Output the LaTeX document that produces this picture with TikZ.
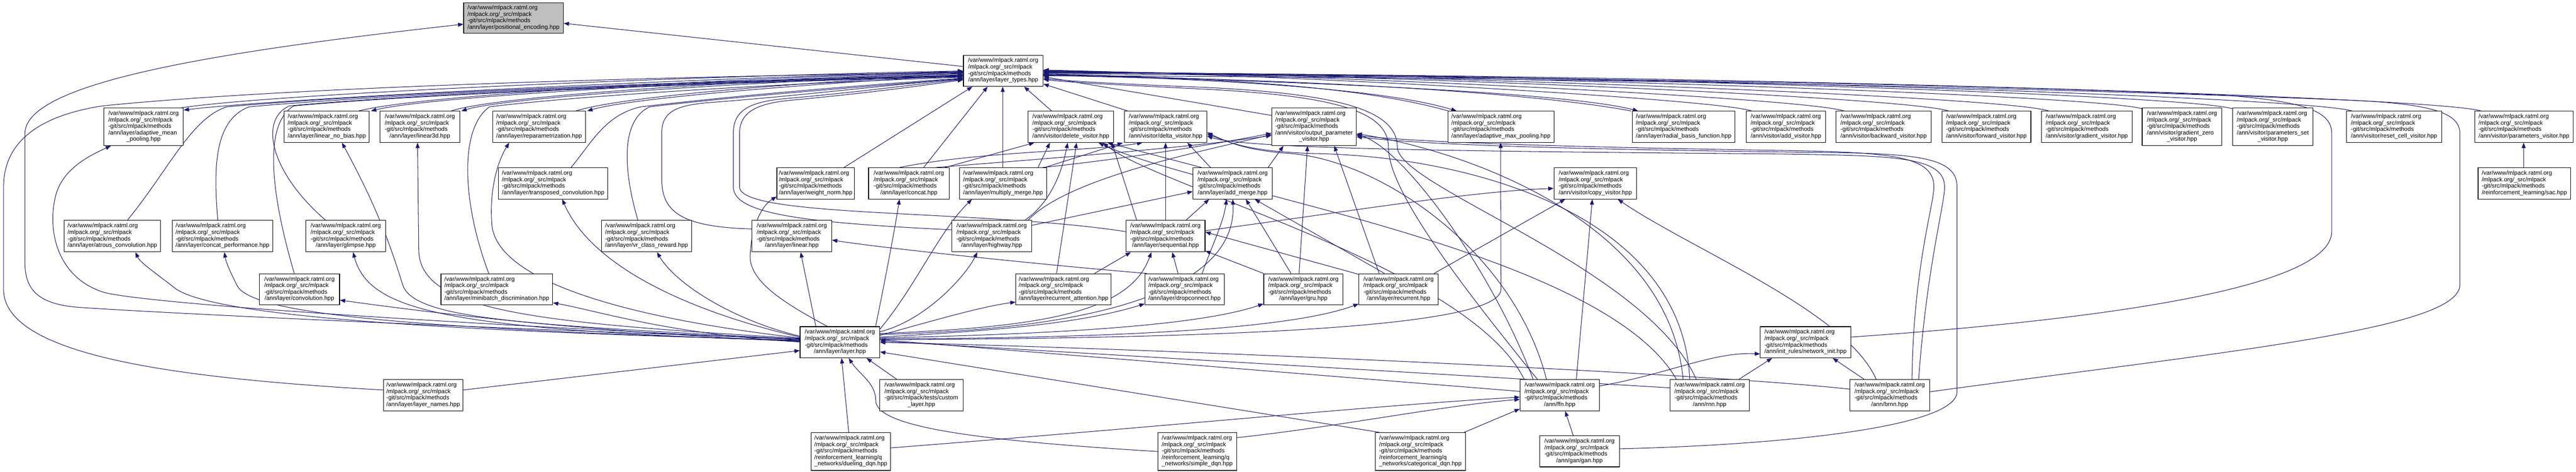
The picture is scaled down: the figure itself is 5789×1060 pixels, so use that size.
\documentclass[tikz,border=0pt]{standalone}
\usepackage{fontspec}
\setmainfont{Liberation Sans}
\usetikzlibrary{arrows.meta}
\pgfdeclarelayer{bg}
\pgfsetlayers{bg,main}
\definecolor{edgec}{HTML}{191970}
\definecolor{rootfill}{HTML}{BFBFBF}
\newcommand{\mlp}{/var/www/mlpack.ratml.org\\/mlpack.org/\_src/mlpack\\-git/src/mlpack/methods}
\newcommand{\lab}[1]{\begin{tabular}{@{}l@{}}\mlp\\\multicolumn{1}{@{}c@{}}{#1}\end{tabular}}
\newcommand{\labb}[2]{\begin{tabular}{@{}l@{}}\mlp\\#1\\\multicolumn{1}{@{}c@{}}{#2}\end{tabular}}
\newcommand{\nd}[7][]{\node[filebox,#1,minimum width={#4-#3},minimum height={#6-#5}] (#2) at ({(#3+#4)/2},{(#5+#6)/2}) {#7};}
\tikzset{
  filebox/.style={draw=black, line width=1.3pt, fill=white, inner sep=0pt, font=\fontsize{13.4pt}{14.6pt}\selectfont},
  dep/.style={draw=edgec, line width=1.2pt, -{Triangle[length=12pt,width=9pt]}}
}
\begin{document}
\begin{tikzpicture}[x=1pt,y=-1pt]
\useasboundingbox (0,0) rectangle (5789,1060);
% row 1-2
\nd[fill=rootfill]{pe}{1042}{1266}{6}{75}{\lab{/ann/layer/positional\_encoding.hpp}}
\nd{lt}{2165}{2344}{124}{194}{\lab{/ann/layer/layer\_types.hpp}}
% row 3
\nd{amp}{233}{412}{243}{327}{\labb{/ann/layer/adaptive\_mean}{\_pooling.hpp}}
\nd{lnb}{639}{830}{250}{320}{\lab{/ann/layer/linear\_no\_bias.hpp}}
\nd{l3d}{854}{1033}{250}{320}{\lab{/ann/layer/linear3d.hpp}}
\nd{rep}{1107}{1316}{250}{320}{\lab{/ann/layer/reparametrization.hpp}}
\nd{delv}{2310}{2503}{250}{320}{\lab{/ann/visitor/delete\_visitor.hpp}}
\nd{delta}{2527}{2712}{250}{320}{\lab{/ann/visitor/delta\_visitor.hpp}}
\nd{opv}{2858}{3048}{243}{327}{\labb{/ann/visitor/output\_parameter}{\_visitor.hpp}}
\nd{amxp}{3254}{3492}{250}{320}{\lab{/ann/layer/adaptive\_max\_pooling.hpp}}
\nd{rbf}{3668}{3899}{250}{320}{\lab{/ann/layer/radial\_basis\_function.hpp}}
\nd{addv}{3924}{4103}{250}{320}{\lab{/ann/visitor/add\_visitor.hpp}}
\nd{bwv}{4126}{4340}{250}{320}{\lab{/ann/visitor/backward\_visitor.hpp}}
\nd{fwv}{4364}{4564}{250}{320}{\lab{/ann/visitor/forward\_visitor.hpp}}
\nd{gv}{4588}{4791}{250}{320}{\lab{/ann/visitor/gradient\_visitor.hpp}}
\nd{gzv}{4814}{4993}{243}{327}{\labb{/ann/visitor/gradient\_zero}{\_visitor.hpp}}
\nd{psv}{5017}{5198}{243}{327}{\labb{/ann/visitor/parameters\_set}{\_visitor.hpp}}
\nd{rcv}{5273}{5487}{250}{320}{\lab{/ann/visitor/reset\_cell\_visitor.hpp}}
\nd{pv}{5561}{5783}{250}{320}{\lab{/ann/visitor/parameters\_visitor.hpp}}
% row 4
\nd{tc}{1120}{1366}{377}{447}{\lab{/ann/layer/transposed\_convolution.hpp}}
\nd{wn}{1746}{1920}{377}{447}{\lab{/ann/layer/weight\_norm.hpp}}
\nd{concat}{1952}{2133}{377}{447}{\lab{/ann/layer/concat.hpp}}
\nd{mm}{2156}{2352}{377}{447}{\lab{/ann/layer/multiply\_merge.hpp}}
\nd{am}{2681}{2859}{377}{447}{\lab{/ann/layer/add\_merge.hpp}}
\nd{cv}{3492}{3678}{377}{447}{\lab{/ann/visitor/copy\_visitor.hpp}}
\nd{sac}{5569}{5777}{377}{447}{\lab{/reinforcement\_learning/sac.hpp}}
% row 5
\nd{atc}{144}{361}{495}{566}{\lab{/ann/layer/atrous\_convolution.hpp}}
\nd{cp}{387}{613}{495}{566}{\lab{/ann/layer/concat\_performance.hpp}}
\nd{gl}{687}{867}{495}{566}{\lab{/ann/layer/glimpse.hpp}}
\nd{vr}{1352}{1554}{495}{566}{\lab{/ann/layer/vr\_class\_reward.hpp}}
\nd{lin}{1690}{1869}{495}{566}{\lab{/ann/layer/linear.hpp}}
\nd{hw}{2139}{2318}{495}{566}{\lab{/ann/layer/highway.hpp}}
\nd{seq}{2530}{2708}{495}{566}{\lab{/ann/layer/sequential.hpp}}
% row 6
\nd{conv}{583}{763}{615}{685}{\lab{/ann/layer/convolution.hpp}}
\nd{mbd}{991}{1242}{615}{685}{\lab{/ann/layer/minibatch\_discrimination.hpp}}
\nd{ra}{2283}{2497}{615}{685}{\lab{/ann/layer/recurrent\_attention.hpp}}
\nd{dc}{2573}{2751}{615}{685}{\lab{/ann/layer/dropconnect.hpp}}
\nd{gru}{2840}{3018}{615}{685}{\lab{/ann/layer/gru.hpp}}
\nd{rec}{3054}{3232}{615}{685}{\lab{/ann/layer/recurrent.hpp}}
% row 7
\nd{layer}{1798}{1977}{734}{804}{\lab{/ann/layer/layer.hpp}}
\nd{ni}{3956}{4159}{734}{804}{\lab{/ann/init\_rules/network\_init.hpp}}
% row 8
\nd{ln}{862}{1040}{853}{923}{\lab{/ann/layer/layer\_names.hpp}}
\nd{cl}{1977}{2164}{853}{923}{\begin{tabular}{@{}l@{}}/var/www/mlpack.ratml.org\\/mlpack.org/\_src/mlpack\\-git/src/mlpack/tests/custom\\\multicolumn{1}{@{}c@{}}{\_layer.hpp}\end{tabular}}
\nd{ffn}{3416}{3594}{853}{923}{\lab{/ann/ffn.hpp}}
\nd{rnn}{3753}{3931}{853}{923}{\lab{/ann/rnn.hpp}}
\nd{brnn}{4157}{4336}{853}{923}{\lab{/ann/brnn.hpp}}
% row 9
\nd{ddqn}{1823}{2001}{972}{1057}{\labb{/reinforcement\_learning/q}{\_networks/dueling\_dqn.hpp}}
\nd{sdqn}{2602}{2779}{972}{1057}{\labb{/reinforcement\_learning/q}{\_networks/simple\_dqn.hpp}}
\nd{cdqn}{3091}{3293}{972}{1057}{\labb{/reinforcement\_learning/q}{\_networks/categorical\_dqn.hpp}}
\nd{gan}{3460}{3639}{979}{1049}{\lab{/ann/gan/gan.hpp}}

\begin{pgfonlayer}{bg}
\fill[white] (0,0) rectangle (5789,1060);
% to root
\draw[dep] ([yshift=-26pt]lt.north west) -- ([yshift=-47pt]pe.north east);
\draw[dep] ([yshift=-28pt]layer.north west) .. controls (1000,735) and (300,700) .. (170,690) .. controls (85,682) and (56,650) .. (56,590) -- (56,300) .. controls (56,190) and (450,120) .. ([yshift=-49pt]pe.north west);
% layer_names to layer_types
\draw[dep] ([yshift=-24pt]ln.north west) .. controls (400,850) and (8,800) .. (8,650) -- (8,420) .. controls (8,300) and (120,255) .. (230,238) .. controls (700,190) and (1700,168) .. ([yshift=-40pt]lt.north west);
% left pairs
\draw[dep] ([xshift=-6pt]amp.north east) .. controls (600,212) and (1500,172) .. ([yshift=-36pt]lt.north west);
\draw[dep] ([yshift=-37pt]lt.north west) .. controls (1500,178) and (620,222) .. ([yshift=-5pt]amp.north east);
\draw[dep] ([xshift=-25pt]lnb.north east) .. controls (950,212) and (1650,176) .. ([yshift=-38pt]lt.north west);
\draw[dep] ([yshift=-39pt]lt.north west) .. controls (1650,181) and (980,214) .. ([xshift=3pt]lnb.north east);
\draw[dep] ([xshift=-20pt]l3d.north east) .. controls (1120,214) and (1700,180) .. ([yshift=-41pt]lt.north west);
\draw[dep] ([yshift=-42pt]lt.north west) .. controls (1700,185) and (1150,216) .. ([xshift=3pt]l3d.north east);
\draw[dep] ([xshift=-23pt]rep.north east) .. controls (1400,216) and (1800,185) .. ([yshift=-44pt]lt.north west);
\draw[dep] ([yshift=-45pt]lt.north west) .. controls (1800,190) and (1420,220) .. ([xshift=3pt]rep.north east);
% lower left to layer_types
\draw[dep] ([xshift=-75pt]atc.north east) .. controls (380,380) and (430,265) .. (510,240) .. controls (900,205) and (1700,178) .. ([yshift=-46pt]lt.north west);
\draw[dep] ([xshift=103pt]cp.north west) .. controls (480,380) and (480,270) .. (560,240) .. controls (950,205) and (1700,180) .. ([yshift=-47pt]lt.north west);
\draw[dep] ([xshift=45pt]gl.north west) .. controls (610,390) and (580,270) .. (650,238) .. controls (1000,205) and (1700,182) .. ([yshift=-48pt]lt.north west);
\draw[dep] ([xshift=79pt]conv.north west) .. controls (610,440) and (590,280) .. (660,238) .. controls (1000,207) and (1700,184) .. ([yshift=-49pt]lt.north west);
\draw[dep] ([xshift=108pt]mbd.north west) .. controls (1040,460) and (1030,290) .. (1100,240) .. controls (1300,215) and (1750,188) .. ([yshift=-50pt]lt.north west);
\draw[dep] ([xshift=164pt]tc.north west) .. controls (1330,320) and (1360,258) .. (1440,240) .. controls (1700,210) and (1900,195) .. ([yshift=-52pt]lt.north west);
\draw[dep] ([xshift=82pt]vr.north west) .. controls (1400,380) and (1395,270) .. (1460,240) .. controls (1700,212) and (1950,195) .. ([yshift=-53pt]lt.north west);
\draw[dep] ([yshift=-20pt]lin.north west) .. controls (1520,510) and (1487,470) .. (1487,400) -- (1487,300) .. controls (1487,250) and (1520,236) .. (1600,230) .. controls (1800,215) and (2000,190) .. ([yshift=-54pt]lt.north west);
\draw[dep] ([yshift=-22pt]hw.north west) .. controls (1800,500) and (1648,480) .. (1648,420) -- (1648,300) .. controls (1648,250) and (1680,230) .. (1760,222) .. controls (1950,205) and (2050,190) .. ([yshift=-55pt]lt.north west);
\draw[dep] ([yshift=-26pt]seq.north west) .. controls (2200,470) and (1662,490) .. (1662,420) -- (1662,300) .. controls (1662,252) and (1700,232) .. (1780,225) .. controls (1960,208) and (2060,194) .. ([yshift=-56pt]lt.north west);
% below to layer_types
\draw[dep] ([xshift=-24pt]wn.north east) -- ([xshift=21pt]lt.south west);
\draw[dep] ([xshift=-58pt]concat.north east) -- ([xshift=55pt]lt.south west);
\draw[dep] ([xshift=98pt]mm.north west) -- ([xshift=89pt]lt.south west);
\draw[dep] ([xshift=54pt]delv.north west) -- ([xshift=137pt]lt.south west);
\draw[dep] ([xshift=8pt]delta.north west) -- ([yshift=6pt]lt.south east);
\draw[dep] ([yshift=-17pt]opv.north west) -- ([yshift=-49pt]lt.north east);
% right visitors to layer_types
\draw[dep] ([xshift=13pt]addv.north west) .. controls (3870,225) and (3000,172) .. ([yshift=-34pt]lt.north east);
\draw[dep] ([xshift=19pt]bwv.north west) .. controls (4060,222) and (3100,172) .. ([yshift=-35pt]lt.north east);
\draw[dep] ([xshift=16pt]fwv.north west) .. controls (4290,220) and (3200,170) .. ([yshift=-36pt]lt.north east);
\draw[dep] ([xshift=17pt]gv.north west) .. controls (4510,218) and (3300,170) .. ([yshift=-37pt]lt.north east);
\draw[dep] ([yshift=-2pt]gzv.north west) .. controls (4720,215) and (3400,168) .. ([yshift=-38pt]lt.north east);
\draw[dep] ([yshift=-2pt]psv.north west) .. controls (4920,213) and (3500,166) .. ([yshift=-39pt]lt.north east);
\draw[dep] ([xshift=13pt]rcv.north west) .. controls (5190,218) and (3600,165) .. ([yshift=-40pt]lt.north east);
\draw[dep] ([xshift=15pt]pv.north west) .. controls (5470,216) and (3700,164) .. ([yshift=-41pt]lt.north east);
% right pairs
\draw[dep] ([yshift=-44pt]lt.north east) .. controls (2900,182) and (3150,212) .. ([xshift=20pt]amxp.north west);
\draw[dep] ([xshift=2pt]amxp.north west) .. controls (3120,212) and (2900,178) .. ([yshift=-43pt]lt.north east);
\draw[dep] ([yshift=-46pt]lt.north east) .. controls (3100,186) and (3550,215) .. ([xshift=14pt]rbf.north west);
\draw[dep] ([xshift=-2pt]rbf.north west) .. controls (3500,218) and (3100,182) .. ([yshift=-45pt]lt.north east);
% long right
\draw[dep] ([yshift=-24pt]ni.north east) .. controls (4700,720) and (5240,650) .. (5240,520) -- (5240,300) .. controls (5240,250) and (5180,228) .. (5000,214) .. controls (4200,180) and (3000,170) .. ([yshift=-42pt]lt.north east);
\draw[dep] ([yshift=-28pt]brnn.north east) .. controls (5000,790) and (5528,740) .. (5528,640) -- (5528,300) .. controls (5528,255) and (5470,235) .. (5300,226) .. controls (4300,185) and (3100,172) .. ([yshift=-47pt]lt.north east);
\draw[dep] ([xshift=-50pt]ffn.north) .. controls (3250,600) and (3120,420) .. (3120,330) .. controls (3120,250) and (3000,215) .. (2700,200) .. controls (2500,190) and (2400,185) .. ([yshift=-55pt]lt.north east);
\draw[dep] ([xshift=-30pt]rnn.north) .. controls (3700,600) and (3140,420) .. (3140,330) .. controls (3140,245) and (3000,210) .. (2700,196) .. controls (2500,188) and (2400,182) .. ([yshift=-53pt]lt.north east);
% layer to left nodes
\draw[dep] ([yshift=-30pt]layer.north west) .. controls (900,722) and (320,680) .. (234,657) .. controls (130,625) and (105,520) .. (125,440) .. controls (140,380) and (200,350) .. ([xshift=17pt]amp.south west);
\draw[dep] ([yshift=-31pt]layer.north west) .. controls (900,742) and (460,705) .. (390,645) .. controls (345,610) and (315,590) .. ([xshift=161pt]atc.south west);
\draw[dep] ([yshift=-32pt]layer.north west) .. controls (900,738) and (560,705) .. (532,640) .. controls (517,610) and (508,590) .. ([xshift=118pt]cp.south west);
\draw[dep] ([yshift=-33pt]layer.north west) .. controls (1000,740) and (830,700) .. ([xshift=107pt]gl.south west);
\draw[dep] ([yshift=-34pt]layer.north west) .. controls (1300,745) and (950,700) .. ([yshift=-60pt]conv.north east);
\draw[dep] ([yshift=-35pt]layer.north west) .. controls (1500,750) and (1350,700) .. ([yshift=-66pt]mbd.north east);
\draw[dep] ([yshift=-29pt]layer.north west) .. controls (1200,730) and (930,720) .. (905,640) .. controls (880,560) and (850,470) .. ([xshift=130pt]lnb.south west);
\draw[dep] ([yshift=-27pt]layer.north west) .. controls (1200,725) and (941,700) .. (941,560) -- ([xshift=85pt]l3d.south west);
\draw[dep] ([yshift=-26pt]layer.north west) .. controls (1450,720) and (1110,640) .. (1105,500) .. controls (1100,420) and (1120,360) .. ([xshift=38pt]rep.south west);
\draw[dep] ([yshift=-24pt]layer.north west) .. controls (1550,700) and (1330,600) .. ([xshift=144pt]tc.south west);
\draw[dep] ([yshift=-22pt]layer.north west) .. controls (1650,720) and (1520,640) .. ([xshift=125pt]vr.south west);
\draw[dep] ([xshift=36pt]layer.north west) -- ([xshift=110pt]lin.south west);
\draw[dep] ([xshift=62pt]layer.north west) .. controls (1760,680) and (1680,630) .. (1686,570) .. controls (1690,500) and (1715,460) .. ([yshift=6pt]wn.south west);
% layer to right nodes
\draw[dep] ([xshift=-10pt]layer.north east) .. controls (1985,650) and (2010,520) .. ([xshift=70pt]concat.south west);
\draw[dep] ([yshift=-6pt]layer.north east) .. controls (2060,640) and (2110,520) .. ([xshift=29pt]mm.south west);
\draw[dep] ([yshift=-12pt]layer.north east) .. controls (2080,720) and (2170,620) .. ([xshift=58pt]hw.south west);
\draw[dep] ([yshift=-16pt]layer.north east) .. controls (2350,735) and (2540,700) .. ([xshift=58pt]seq.south west);
\draw[dep] ([yshift=-18pt]layer.north east) .. controls (2500,740) and (2780,640) .. ([xshift=90pt]am.south west);
\draw[dep] ([yshift=-20pt]layer.north east) .. controls (2100,720) and (2200,690) .. ([yshift=7pt]ra.south west);
\draw[dep] ([yshift=-24pt]layer.north east) .. controls (2300,740) and (2450,720) .. ([yshift=3pt]dc.south west);
\draw[dep] ([yshift=-26pt]layer.north east) .. controls (2400,750) and (2700,730) .. ([yshift=3pt]gru.south west);
\draw[dep] ([yshift=-28pt]layer.north east) .. controls (2500,760) and (2900,740) .. ([yshift=3pt]rec.south west);
\draw[dep] ([yshift=-30pt]layer.north east) .. controls (2700,760) and (3373,740) .. (3373,650) -- ([xshift=119pt]amxp.south west);
% into layer
\draw[dep] ([yshift=-24pt]ln.north east) -- ([yshift=17pt]layer.south west);
\draw[dep] ([xshift=39pt]cl.north west) -- ([xshift=150pt]layer.south west);
\draw[dep] ([xshift=85pt]ddqn.north west) -- ([xshift=94pt]layer.south west);
\draw[dep] (sdqn.west) .. controls (2200,990) and (1968,960) .. (1968,900) .. controls (1968,860) and (1930,840) .. ([xshift=110pt]layer.south west);
\draw[dep] ([xshift=9pt]cdqn.north west) -- ([yshift=14pt]layer.south east);
\draw[dep] ([yshift=-27pt]ffn.north west) -- ([yshift=-30pt]layer.north east);
\draw[dep] ([yshift=-19pt]rnn.north west) -- ([yshift=-33pt]layer.north east);
\draw[dep] ([yshift=-22pt]brnn.north west) .. controls (3800,835) and (2500,780) .. ([yshift=-36pt]layer.north east);
% ffn / network_init / q networks
\draw[dep] ([yshift=-15pt]ffn.north east) .. controls (3750,840) and (3850,790) .. ([yshift=-62pt]ni.north west);
\draw[dep] ([xshift=-24pt]rnn.north east) -- ([xshift=27pt]ni.south west);
\draw[dep] ([xshift=33pt]brnn.north west) -- ([xshift=-41pt]ni.south east);
\draw[dep] ([xshift=76pt]gan.north west) -- ([xshift=102pt]ffn.south west);
\draw[dep] ([yshift=-12pt]sdqn.north east) .. controls (3000,960) and (3250,910) .. ([yshift=-45pt]ffn.north west);
\draw[dep] ([xshift=-3pt]cdqn.north east) -- ([yshift=5pt]ffn.south west);
\draw[dep] ([yshift=-35pt]ddqn.north east) .. controls (2600,960) and (3100,910) .. ([yshift=-40pt]ffn.north west);
\draw[dep] ([xshift=103pt]sac.north west) -- ([xshift=111pt]pv.south west);
% copy visitor
\draw[dep] ([yshift=-24pt]seq.north east) .. controls (3000,480) and (3300,430) .. ([yshift=-47pt]cv.north west);
\draw[dep] ([xshift=-10pt]rec.north east) -- ([xshift=26pt]cv.south west);
\draw[dep] ([xshift=127pt]ffn.north west) -- ([xshift=87pt]cv.south west);
\draw[dep] ([xshift=60pt]brnn.north west) .. controls (4150,700) and (3800,560) .. ([xshift=-43pt]cv.south east);
% sequential
\draw[dep] ([xshift=-38pt]ra.north east) -- ([xshift=12pt]seq.south west);
\draw[dep] ([xshift=75pt]dc.north west) -- ([xshift=105pt]seq.south west);
\draw[dep] (gru.north west) -- ([yshift=3pt]seq.south east);
\draw[dep] ([yshift=-2pt]rec.north west) -- ([yshift=-27pt]seq.north east);
% add merge
\draw[dep] ([yshift=-12pt]hw.north east) -- ([yshift=-54pt]am.north west);
\draw[dep] ([xshift=-43pt]seq.north east) -- ([xshift=37pt]am.south west);
\draw[dep] ([xshift=-50pt]dc.north east) .. controls (2720,560) and (2750,500) .. ([xshift=76pt]am.south west);
\draw[dep] ([xshift=62pt]gru.north west) -- ([xshift=-60pt]am.south east);
\draw[dep] ([xshift=58pt]rec.north west) -- ([xshift=-40pt]am.south east);
% linear
\draw[dep] ([xshift=5pt]dc.north west) .. controls (2400,600) and (2000,560) .. ([yshift=-45pt]lin.north east);
% delete visitor
\draw[dep] ([xshift=-10pt]concat.north east) -- ([xshift=15pt]delv.south west);
\draw[dep] ([xshift=-20pt]mm.north east) -- ([xshift=50pt]delv.south west);
\draw[dep] ([xshift=-15pt]hw.north east) .. controls (2340,470) and (2380,420) .. ([xshift=90pt]delv.south west);
\draw[dep] ([xshift=20pt]am.north west) -- ([xshift=-15pt]delv.south east);
\draw[dep] ([xshift=25pt]seq.north west) -- ([xshift=-5pt]delv.south east);
\draw[dep] ([xshift=92pt]ra.north west) -- ([xshift=110pt]delv.south west);
\draw[dep] ([xshift=10pt]ffn.north west) .. controls (3300,600) and (2600,420) .. ([xshift=-25pt]delv.south east);
\draw[dep] ([xshift=15pt]rnn.north west) .. controls (3600,560) and (2700,430) .. ([xshift=-35pt]delv.south east);
% delta visitor
\draw[dep] ([xshift=-5pt]mm.north east) -- ([xshift=-3pt]delta.south west);
\draw[dep] ([xshift=70pt]concat.north west) .. controls (2200,340) and (2450,340) .. ([xshift=41pt]delta.south west);
\draw[dep] ([xshift=90pt]seq.north west) -- ([xshift=93pt]delta.south west);
\draw[dep] ([xshift=40pt]am.north west) -- ([xshift=142pt]delta.south west);
\draw[dep] ([xshift=60pt]ffn.north west) .. controls (3400,560) and (3100,360) .. (2900,345) .. controls (2800,338) and (2760,320) .. ([yshift=23pt]delta.south east);
\draw[dep] ([xshift=45pt]rnn.north west) .. controls (3780,480) and (3300,350) .. (2950,345) .. controls (2800,340) and (2760,318) .. ([yshift=19pt]delta.south east);
\draw[dep] ([xshift=-25pt]brnn.north east) .. controls (4330,600) and (4370,460) .. (4370,420) .. controls (4370,350) and (4250,350) .. (4000,346) .. controls (3300,340) and (2800,335) .. ([yshift=15pt]delta.south east);
% output parameter visitor
\draw[dep] ([xshift=-10pt]am.north east) -- ([xshift=27pt]opv.south west);
\draw[dep] ([xshift=80pt]gru.north west) -- ([xshift=81pt]opv.south west);
\draw[dep] ([xshift=46pt]rec.north west) -- ([xshift=141pt]opv.south west);
\draw[dep] ([xshift=-10pt]mm.north east) .. controls (2500,360) and (2700,330) .. ([yshift=-57pt]opv.north west);
\draw[dep] ([xshift=-30pt]concat.north east) .. controls (2300,360) and (2650,335) .. ([yshift=-62pt]opv.north west);
\draw[dep] ([xshift=-8pt]hw.north east) .. controls (2400,400) and (2700,340) .. ([yshift=-60pt]opv.north west);
\draw[dep] ([xshift=30pt]ffn.north west) .. controls (3350,600) and (3150,330) .. ([yshift=-60pt]opv.north east);
\draw[dep] ([xshift=30pt]rnn.north west) .. controls (3750,500) and (3300,340) .. ([yshift=-58pt]opv.north east);
\draw[dep] ([xshift=-40pt]brnn.north east) .. controls (4300,600) and (4346,460) .. (4346,420) .. controls (4346,350) and (4250,342) .. (4000,338) .. controls (3500,330) and (3200,320) .. ([yshift=-62pt]opv.north east);
\draw[dep] ([yshift=-30pt]gan.north east) .. controls (4000,1000) and (4398,960) .. (4398,880) -- (4398,420) .. controls (4398,350) and (4300,344) .. (4050,342) .. controls (3500,335) and (3200,325) .. ([yshift=-65pt]opv.north east);
\end{pgfonlayer}
\end{tikzpicture}
\end{document}
